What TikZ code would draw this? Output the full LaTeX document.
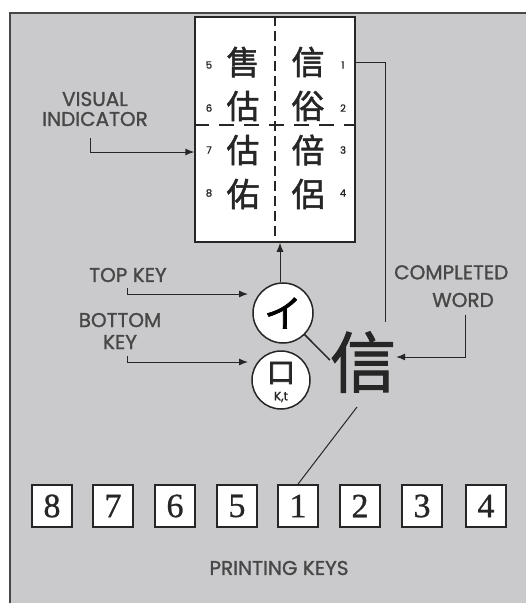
\documentclass[tikz,border=0pt]{standalone}
\usepackage{fontspec}
\setmainfont{Liberation Serif}
\newfontfamily\labelfont{Poppins}[FakeBold=1.2]
\newfontfamily\cjk{Noto Sans CJK TC}[FakeBold=1.6]
\newfontfamily\cjkb{Noto Sans CJK TC}[FakeBold=3]
\newfontfamily\keyfont{Liberation Serif}[FakeBold=0.8]
\usetikzlibrary{arrows.meta}
\definecolor{panel}{RGB}{202,201,203}
\definecolor{ink}{RGB}{38,38,38}
\tikzset{
  lbl/.style={font=\labelfont\fontsize{20}{22}\selectfont, text=ink!85, align=center, inner sep=0pt},
  hanzi/.style={font=\cjk\fontsize{33}{33}\selectfont, text=ink, inner sep=0pt},
  smallnum/.style={font=\labelfont\fontsize{10}{10}\selectfont, text=ink, inner sep=0pt},
  keybox/.style={draw=ink, line width=1.8pt, fill=white, minimum width=40pt, minimum height=42pt, inner sep=0pt, font=\keyfont\fontsize{34}{34}\selectfont, text=ink},
  keycirc/.style={circle, draw=ink, line width=1.5pt, fill=white, inner sep=0pt},
  conn/.style={draw=ink, line width=1pt},
  arr/.style={conn, -{Latex[length=9pt,width=7pt]}},
}
\begin{document}
\begin{tikzpicture}[x=1pt,y=-1pt]
\useasboundingbox (0,0) rectangle (526,603);
\fill[white] (0,0) rectangle (526,603);
\fill[panel] (10,13) rectangle (526,603);
\draw[ink!85, line width=1.8pt] (10,603) -- (10,13) -- (526,13);

% visual indicator box
\node[draw=ink, line width=1.5pt, fill=white, minimum width=160pt, minimum height=225pt, inner sep=0pt] (vi) at (275,129.5) {};
\draw[ink, line width=2pt, dash pattern=on 10pt off 5pt] (vi.north) -- (vi.south);
\draw[ink, line width=1.8pt, dash pattern=on 15pt off 10pt] (vi.west |- 0,125) -- (vi.east |- 0,125);

\node[hanzi] (c5) at (243,62) {售};
\node[hanzi] (c6) at (243,106) {估};
\node[hanzi] (c7) at (243,150) {估};
\node[hanzi] (c8) at (243,194) {佑};
\node[hanzi] (c1) at (308,62) {信};
\node[hanzi] (c2) at (308,106) {俗};
\node[hanzi] (c3) at (308,150) {倍};
\node[hanzi] (c4) at (308,194) {侶};

\node[smallnum] (n5) at (209,65) {5};
\node[smallnum] (n6) at (209,108) {6};
\node[smallnum] (n7) at (209,150) {7};
\node[smallnum] (n8) at (209,193) {8};
\node[smallnum] (n1) at (343,65) {1};
\node[smallnum] (n2) at (343,108) {2};
\node[smallnum] (n3) at (343,150) {3};
\node[smallnum] (n4) at (343,193) {4};

% labels
\node[lbl] (vis) at (95,109) {VISUAL\\[-2pt]INDICATOR};
\coordinate (visA) at (90,138);
\draw[arr] (visA) |- ([yshift=-22.5pt]vi.west);

% keys
\node[keycirc, minimum size=60pt] (tk) at (283,313) {\cjk\fontsize{38}{38}\selectfont イ};
\node[keycirc, minimum size=58pt] (bk) at (281,380) {};
\node[font=\cjkb\fontsize{28}{28}\selectfont, text=ink, inner sep=0pt] (bkc) at (281,373) {口};
\node[font=\labelfont\fontsize{12}{12}\selectfont, text=ink, inner sep=0pt] (bkt) at (281,397) {K,t};

\draw[arr] (tk.north -| 280,0) -- (vi.south -| 280,0);

\node[lbl] (topk) at (128,275) {TOP KEY};
\coordinate (topA) at (127,288);
\coordinate (topB) at (248,294);
\draw[arr] (topA) |- (topB);

\node[lbl] (botk) at (120,331) {BOTTOM\\[0pt]KEY};
\coordinate (botA) at (127,356);
\coordinate (botB) at (248,362);
\draw[arr] (botA) |- (botB);

% completed word
\node[font=\cjk\fontsize{66}{66}\selectfont, text=ink, inner sep=0pt] (word) at (363,362) {信};
\draw[conn, line width=1.5pt] (tk.-45) -- (word.west |- 0,360);

\coordinate (wtop) at (385,322);
\draw[conn] (vi.east |- c1) -| (wtop);

\node[lbl, anchor=north west] (cw) at (394,265) {COMPLETED};
\node[lbl] (cw2) at (463,300) {WORD};
\coordinate (cwA) at (465,315);
\draw[arr] (cwA) |- (word.east |- 0,357);

% printing keys
\node[keybox] (k8) at (52,506) {8};
\node[keybox] (k7) at (113,506) {7};
\node[keybox] (k6) at (175,506) {6};
\node[keybox] (k5) at (237,506) {5};
\node[keybox] (k1) at (298,506) {1};
\node[keybox] (k2) at (360,506) {2};
\node[keybox] (k3) at (422,506) {3};
\node[keybox] (k4) at (486,506) {4};

\coordinate (wl) at (357,407);
\draw[conn] (wl) -- (k1.north);

\node[lbl] (pk) at (279,568) {PRINTING KEYS};
\end{tikzpicture}
\end{document}
